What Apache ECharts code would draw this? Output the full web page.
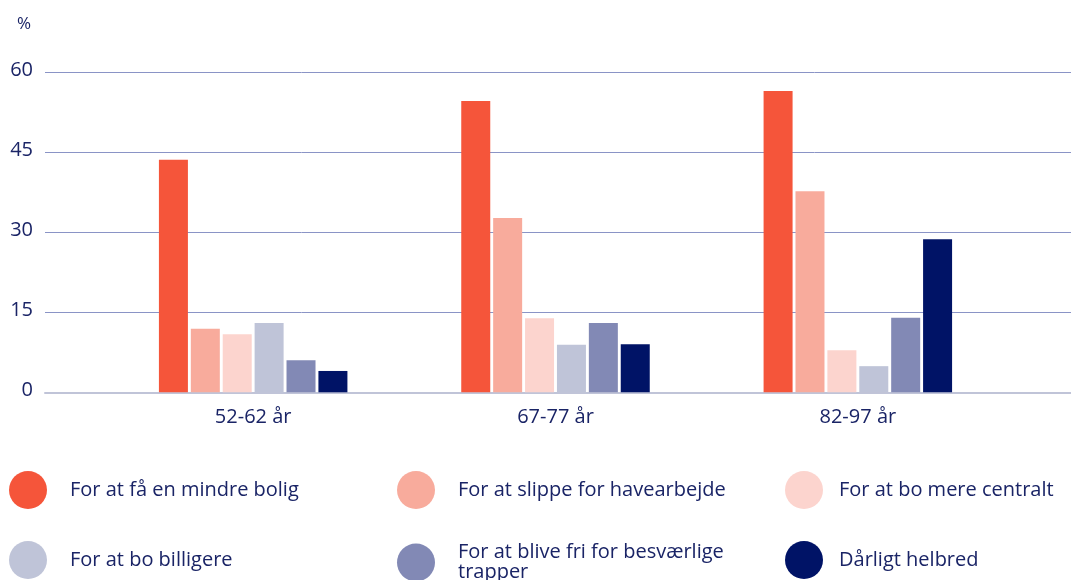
<!DOCTYPE html>
<html>
<head>
<meta charset="utf-8">
<script src="https://cdn.jsdelivr.net/npm/echarts@6/dist/echarts.min.js"></script>
<style>
  html, body { margin: 0; padding: 0; background: #ffffff; }
  #chart { width: 1071px; height: 580px; }
</style>
</head>
<body>
<div id="chart"></div>
<script>
// Age groups along the category axis
const categories = ['52-62 år', '67-77 år', '82-97 år'];

// Reasons for moving (share in %, per age group)
const smallerHome   = [43.6, 54.6, 56.5];
const noGardenWork  = [11.9, 32.7, 37.7];
const moreCentral   = [10.9, 13.9, 7.9];
const cheaperLiving = [13.0, 8.9, 4.9];
const avoidStairs   = [6.0, 13.0, 14.0];
const poorHealth    = [4.0, 9.0, 28.7];

const seriesNames = [
  'For at få en mindre bolig',
  'For at slippe for havearbejde',
  'For at bo mere centralt',
  'For at bo billigere',
  'For at blive fri for besværlige trapper',
  'Dårligt helbred'
];
const seriesValues = [smallerHome, noGardenWork, moreCentral, cheaperLiving, avoidStairs, poorHealth];
const colors = ['#F5553A', '#F8AB9C', '#FCD4CE', '#BFC4D8', '#8289B5', '#001366'];

// Y axis ticks
const yTicks = [0, 15, 30, 45, 60];

const textColor = '#1A2466';
const fontFamily = '"Open Sans", Lato, sans-serif';

const chart = echarts.init(document.getElementById('chart'), null, { renderer: 'canvas' });

// Legend placement: three columns, two rows
const legendSlots = [
  { left: 9,   top: 471, gap: 18 },
  { left: 397, top: 471, gap: 18 },
  { left: 785, top: 471, gap: 11 },
  { left: 9,   top: 541, gap: 18 },
  { left: 397, top: 541, gap: 18 },
  { left: 785, top: 541, gap: 11 }
];

const legends = seriesNames.map((name, i) => ({
  data: [{ name: name, icon: 'circle' }],
  left: legendSlots[i].left,
  top: legendSlots[i].top,
  itemWidth: 38,
  itemHeight: 38,
  padding: 0,
  selectedMode: false,
  formatter: n => n === 'For at blive fri for besværlige trapper'
    ? 'For at blive fri for besværlige\ntrapper' : n,
  textStyle: {
    color: textColor,
    fontSize: 20,
    fontFamily: fontFamily,
    lineHeight: 20,
    padding: [3, 0, 0, legendSlots[i].gap]
  }
}));

const option = {
  backgroundColor: '#ffffff',
  animation: false,
  title: {
    text: '%',
    left: 12,
    top: 11,
    textStyle: { color: textColor, fontSize: 17, fontWeight: 'normal', fontFamily: fontFamily }
  },
  legend: legends,
  grid: [
    // full-width frame carrying the value axis and gridlines
    { left: 45, right: 0, top: 72.3, height: 320, containLabel: false },
    // inner frame holding the grouped bars
    { left: 102, width: 907, top: 72.3, height: 320, containLabel: false }
  ],
  xAxis: [
    {
      gridIndex: 0,
      type: 'value',
      show: true,
      min: 0, max: 1,
      axisLabel: { show: false },
      axisTick: { show: false },
      splitLine: { show: false },
      axisLine: { show: true, onZero: false, lineStyle: { color: '#C0C4D8', width: 2 } }
    },
    {
      gridIndex: 1,
      type: 'category',
      data: categories,
      axisLine: { show: false },
      axisTick: { show: false },
      axisLabel: {
        color: textColor,
        fontSize: 20,
        fontFamily: fontFamily,
        margin: 15
      }
    }
  ],
  yAxis: [
    {
      gridIndex: 0,
      type: 'value',
      min: yTicks[0],
      max: yTicks[yTicks.length - 1],
      interval: 15,
      axisLine: { show: false },
      axisTick: { show: false },
      axisLabel: {
        color: textColor,
        fontSize: 20,
        fontFamily: fontFamily,
        margin: 12,
        verticalAlign: 'bottom',
        lineHeight: 20,
        padding: [0, 0, -8, 0]
      },
      splitLine: { show: true, lineStyle: { color: '#8A94C6', width: 1 } }
    },
    {
      gridIndex: 1,
      type: 'value',
      min: yTicks[0],
      max: yTicks[yTicks.length - 1],
      interval: 15,
      show: false,
      splitLine: { show: false }
    }
  ],
  series: seriesNames.map((name, i) => ({
    name: name,
    type: 'bar',
    xAxisIndex: 1,
    yAxisIndex: 1,
    data: seriesValues[i],
    barWidth: 29,
    barGap: '10%',
    itemStyle: { color: colors[i] },
    z: 3
  }))
};

chart.setOption(option);
</script>
</body>
</html>
